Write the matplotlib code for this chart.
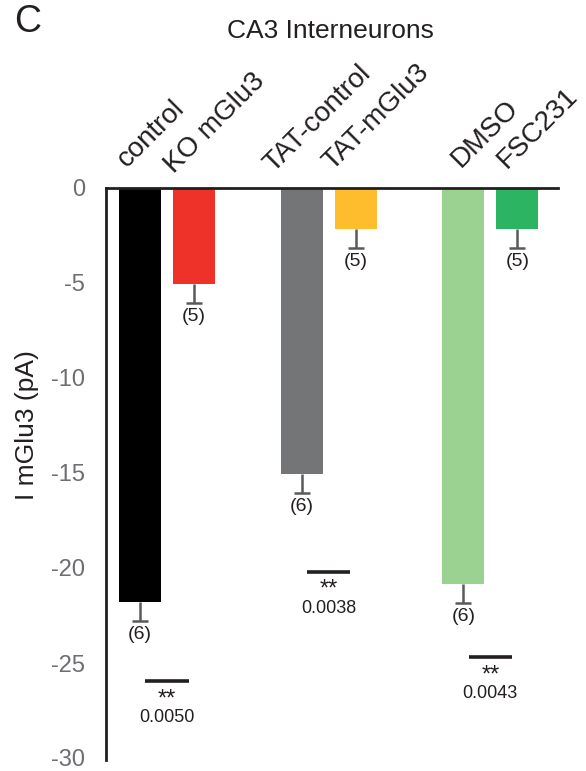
import matplotlib
matplotlib.use("Agg")
import matplotlib.pyplot as plt
import numpy as np

plt.rcParams['font.family'] = ['Liberation Sans', 'DejaVu Sans']

# ---- data ----
categories = ["control", "KO mGlu3", "TAT-control", "TAT-mGlu3", "DMSO", "FSC231"]
values = [-21.8, -5.05, -15.07, -2.15, -20.83, -2.18]
errors = [1.0, 1.0, 1.0, 1.0, 1.0, 1.0]
n_cells = [6, 5, 6, 5, 6, 5]
p_values = ["0.0050", "0.0038", "0.0043"]
sig_marks = ["**", "**", "**"]
sig_levels = [-25.96, -20.19, -24.7]
y_ticks = [0, -5, -10, -15, -20, -25, -30]
title = "CA3 Interneurons"
ylabel = "I mGlu3 (pA)"

# ---- style ----
colors = ["#000000", "#ee3129", "#737577", "#fdbd2d", "#9cd291", "#2db462"]
err_color = "#58595b"
text_color = "#231f20"
tick_color = "#6d6e71"
# label anchor offsets in pixels (dx from bar centre, dy above axis)
label_offsets = [(-13, 20), (-20, 14), (-28, 15), (-23, 17), (-3, 20), (-11, 19)]

W, H = 586, 771
Y0, Y30 = 188, 758
fig = plt.figure(figsize=(W / 100, H / 100), dpi=100)
ax = fig.add_axes([106 / W, 1 - Y30 / H, (558 - 106) / W, (Y30 - Y0) / H])

positions = [g * 3 + i for g in range(3) for i in range(2)]
ax.bar(positions, values, width=0.78, color=colors, zorder=2)

ends = [v - e for v, e in zip(values, errors)]
ax.vlines(positions, values, ends, colors=err_color, lw=1.8, zorder=3)
ax.plot(positions, ends, ls='none', marker='_', ms=11.5, mew=1.8, color=err_color, zorder=3)

px = 0.72  # points per pixel
for x, y, n in zip(positions, ends, n_cells):
    ax.annotate(f"({n})", xy=(x, y), xytext=(0, -5 * px), textcoords='offset points',
                ha='center', va='top', fontsize=14, color=text_color)

for x, lab, (dx, dy) in zip(positions, categories, label_offsets):
    ax.annotate(lab, xy=(x, 0), xytext=(dx * px, dy * px), textcoords='offset points',
                ha='left', va='baseline', rotation=45, rotation_mode='anchor',
                fontsize=20, color=text_color, annotation_clip=False)

for g, (yl, mark, p) in enumerate(zip(sig_levels, sig_marks, p_values)):
    xc = g * 3 + 0.5
    ax.plot([xc - 0.4, xc + 0.4], [yl, yl], color=text_color, lw=2.6, solid_capstyle='butt',
            zorder=3, clip_on=False)
    ax.annotate(mark, xy=(xc, yl), xytext=(0, -7 * px), textcoords='offset points',
                ha='center', va='top', fontsize=17, color=text_color)
    ax.annotate(p, xy=(xc, yl), xytext=(0, -41 * px), textcoords='offset points',
                ha='center', va='baseline', fontsize=13, color=text_color)

ax.set_ylim(-30, 0)
ax.set_xlim(-34 / 53.9, (558 - 140) / 53.9)
ax.set_yticks(y_ticks)
ax.set_yticklabels([str(t) for t in y_ticks])
ax.set_xticks([])
ax.tick_params(axis='y', length=0, pad=21 * px, labelsize=17, labelcolor=tick_color)
for s in ['bottom', 'right']:
    ax.spines[s].set_visible(False)
for s in ['top', 'left']:
    ax.spines[s].set_linewidth(2)
    ax.spines[s].set_color(text_color)
ax.spines['left'].set_bounds(-30.1, 0)

ax.set_ylabel(ylabel, fontsize=19, color=text_color)
ax.yaxis.set_label_coords((39 - 106) / (558 - 106), (Y30 - 425) / (Y30 - Y0))
ax.yaxis.label.set_va('bottom')

fig.text(330 / W, 1 - 31 / H, title, ha='center', va='center', fontsize=19, color=text_color)
fig.text(14 / W, 1 - 22 / H, "C", ha='left', va='center', fontsize=27, color=text_color)

fig.savefig("out.png", dpi=100)
